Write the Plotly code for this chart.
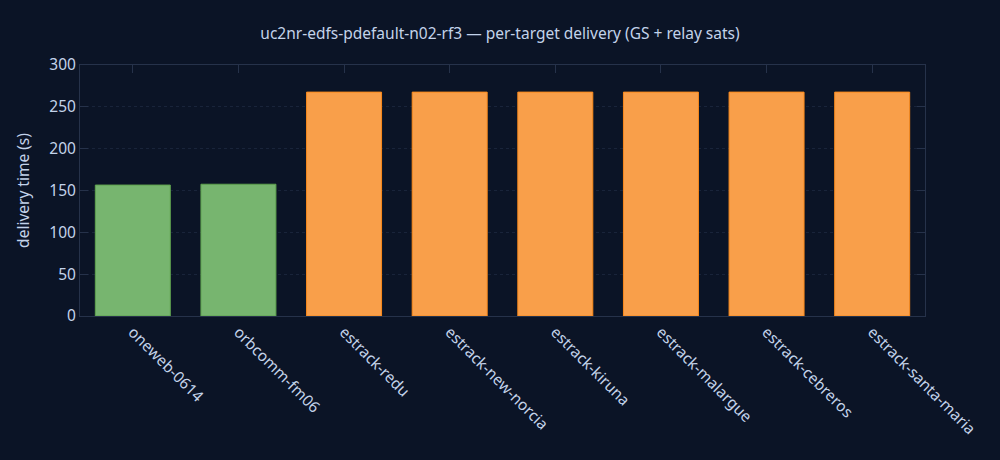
import plotly.graph_objects as go

targets = ["oneweb-0614", "orbcomm-fm06", "estrack-redu", "estrack-new-norcia",
           "estrack-kiruna", "estrack-malargue", "estrack-cebreros", "estrack-santa-maria"]
delivery_s = [156.5, 157.5, 267.6, 267.6, 267.6, 267.6, 267.6, 267.6]
kind = ["relay", "relay", "gs", "gs", "gs", "gs", "gs", "gs"]

fill = {"relay": "#77b56f", "gs": "#f99f4a"}
edge = {"relay": "#5fa34e", "gs": "#fb8a1c"}

bg = "#0b1426"
txt = "#c3d3ea"
axcol = "#26324a"
fs = 15.5

fig = go.Figure()
fig.add_trace(go.Bar(x=targets, y=delivery_s,
                     marker=dict(color=[fill[k] for k in kind],
                                 line=dict(color=[edge[k] for k in kind], width=1)),
                     hoverinfo="x+y"))

axis = dict(showline=True, linecolor=axcol, linewidth=1, mirror="ticks",
            ticks="inside", ticklen=8, tickcolor=axcol,
            tickfont=dict(size=fs, color=txt), zeroline=False)

fig.update_layout(
    title=dict(text="uc2nr-edfs-pdefault-n02-rf3 \u2014 per-target delivery (GS + relay sats)",
               x=0.5, xanchor="center", y=0.939, font=dict(size=fs, color=txt)),
    font=dict(family="Noto Sans", color=txt),
    paper_bgcolor=bg, plot_bgcolor=bg,
    showlegend=False, bargap=0.29,
    width=1000, height=460,
    margin=dict(l=80, r=75, t=65, b=144),
    xaxis=dict(axis, tickangle=45, showgrid=False, layer="below traces"),
    yaxis=dict(axis, range=[0, 300], dtick=50, showgrid=True,
               gridcolor="#19243a", griddash="dot",
               title=dict(text="delivery time (s)", font=dict(size=fs, color=txt))),
)

fig.write_html("out.html", config={"displayModeBar": False},
               post_script="document.body.style.margin='0';"
                           "document.body.style.background='%s';" % bg)
